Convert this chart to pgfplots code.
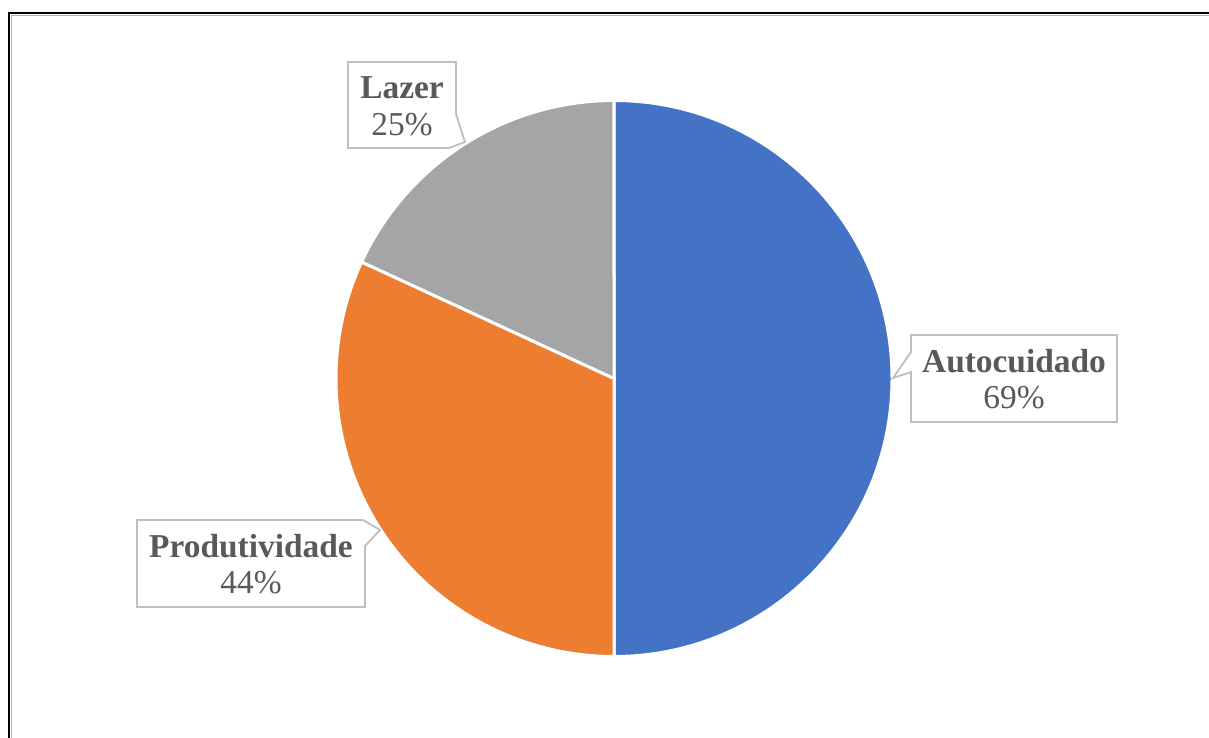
\documentclass[border=0pt]{standalone}
\usepackage{pgfplots}
\pgfplotsset{compat=1.18}
\usepackage{pgfplotstable}
\usepackage{fontspec}
\setmainfont{Liberation Serif}

\definecolor{sliceA}{HTML}{4472C4}
\definecolor{sliceB}{HTML}{ED7D31}
\definecolor{sliceC}{HTML}{A5A5A5}
\definecolor{txt}{HTML}{595959}
\definecolor{boxline}{HTML}{BFBFBF}

\pgfplotstableread{
label value
Autocuidado 69
Produtividade 44
Lazer 25
}\piedata

\pgfplotstablegetelem{0}{value}\of\piedata \let\va\pgfplotsretval
\pgfplotstablegetelem{1}{value}\of\piedata \let\vb\pgfplotsretval
\pgfplotstablegetelem{2}{value}\of\piedata \let\vc\pgfplotsretval
\pgfmathsetmacro\tot{\va+\vb+\vc}
% slices run clockwise from the top
\pgfmathsetmacro\aA{90}
\pgfmathsetmacro\aB{\aA-360*(\va/\tot)}
\pgfmathsetmacro\aC{\aB-360*(\vb/\tot)}
\pgfmathsetmacro\aD{\aC-360*(\vc/\tot)}
\def\R{139pt}

\begin{document}
\begin{tikzpicture}
\begin{axis}[
    width=604.5pt, height=369pt, scale only axis,
    xmin=0, xmax=1209, ymin=0, ymax=738,
    y dir=reverse,
    hide axis, clip=true,
  ]
  \coordinate (bl) at (axis cs:0,738);
  \coordinate (tr) at (axis cs:1209,0);
  % frame of the chart area
  \draw[black, line width=1.1pt] (axis cs:9,13) rectangle (axis cs:1260,780);
  \draw[black!30, line width=0.8pt] (axis cs:11.5,15.5) rectangle (axis cs:1260,780);

  % slices
  \fill[sliceA, draw=white, line width=1.5pt] (axis cs:614,378.5) -- ++(\aA:\R)
     arc[start angle=\aA, end angle=\aB, radius=\R] -- cycle;
  \fill[sliceB, draw=white, line width=1.5pt] (axis cs:614,378.5) -- ++(\aB:\R)
     arc[start angle=\aB, end angle=\aC, radius=\R] -- cycle;
  \fill[sliceC, draw=white, line width=1.5pt] (axis cs:614,378.5) -- ++(\aC:\R)
     arc[start angle=\aC, end angle=\aD, radius=\R] -- cycle;

  % callouts
  \draw[boxline, fill=white, line width=0.9pt]
     (axis cs:348,62) -- (axis cs:456,62) -- (axis cs:456,114) -- (axis cs:465,142)
     -- (axis cs:449,148) -- (axis cs:348,148) -- cycle;
  \draw[boxline, fill=white, line width=0.9pt]
     (axis cs:911,335) -- (axis cs:1117,335) -- (axis cs:1117,422) -- (axis cs:911,422)
     -- (axis cs:911,372) -- (axis cs:893,378) -- (axis cs:911,352) -- cycle;
  \draw[boxline, fill=white, line width=0.9pt]
     (axis cs:137,520) -- (axis cs:363,520) -- (axis cs:380,530) -- (axis cs:365,546)
     -- (axis cs:365,607) -- (axis cs:137,607) -- cycle;

  \tikzset{lbl/.style={text=txt, align=center, inner sep=0pt,
      font=\fontsize{16.7}{18.3}\selectfont}}
  \node[lbl] at (axis cs:402,106) {\textbf{Lazer}\\\vc\%};
  \node[lbl] at (axis cs:1014,379) {\textbf{Autocuidado}\\\va\%};
  \node[lbl] at (axis cs:251,564) {\textbf{Produtividade}\\\vb\%};
\end{axis}
\pgfresetboundingbox
\useasboundingbox (bl) rectangle (tr);
\end{tikzpicture}
\end{document}
